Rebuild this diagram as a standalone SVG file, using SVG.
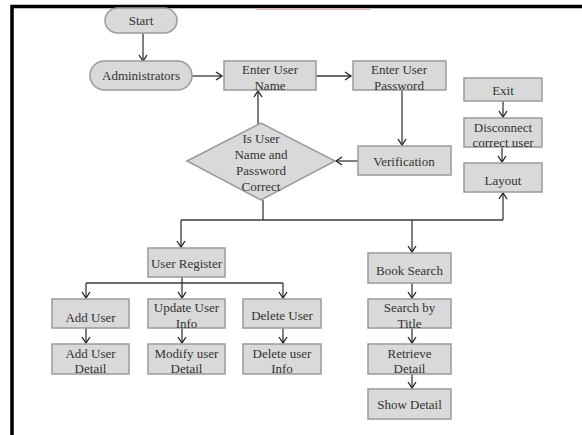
<svg xmlns="http://www.w3.org/2000/svg" width="582" height="435" viewBox="0 0 582 435">
<defs>
<marker id="ah" markerUnits="userSpaceOnUse" markerWidth="12" markerHeight="12" refX="7" refY="5" orient="auto">
<path d="M1,1 L7,5 L1,9" fill="none" stroke="#222" stroke-width="1.3"/>
</marker>
<style>
.b{fill:#d9d9d9;stroke:#9a9a9a;stroke-width:1.5}
.t{font-family:"Liberation Serif","DejaVu Serif",serif;font-size:13px;fill:#333;text-anchor:middle}
.c{fill:none;stroke:#3a3a3a;stroke-width:1.3}
.a{marker-end:url(#ah)}
</style>
</defs>
<rect width="582" height="435" fill="#fff"/>
<path d="M12,435 L12,6.5 L582,6.5" fill="none" stroke="#000" stroke-width="3.5"/>
<line x1="256" y1="9.5" x2="370" y2="9.5" stroke="#f3b0b0" stroke-width="1"/>

<g id="connectors">
<path class="c a" d="M143,33 L143,61"/>
<path class="c a" d="M192,76 L222,76"/>
<path class="c a" d="M316,76 L351,76"/>
<path class="c a" d="M402,90 L402,145"/>
<path class="c a" d="M358,161 L336,161"/>
<path class="c a" d="M258,124 L258,91"/>
<path class="c" d="M263,200 L263,220"/>
<path class="c" d="M181,220 L503,220"/>
<path class="c a" d="M503,220 L503,193"/>
<path class="c a" d="M181,220 L181,247"/>
<path class="c a" d="M412,220 L412,252"/>
<path class="c a" d="M503,101 L503,117"/>
<path class="c a" d="M502,147 L502,162"/>
<path class="c" d="M182,277 L182,283"/>
<path class="c" d="M86,283 L283,283"/>
<path class="c a" d="M86,283 L86,298"/>
<path class="c a" d="M182,283 L182,298"/>
<path class="c a" d="M283,283 L283,298"/>
<path class="c a" d="M86,328 L86,343"/>
<path class="c a" d="M182,328 L182,343"/>
<path class="c a" d="M283,328 L283,343"/>
<path class="c a" d="M412,283 L412,298"/>
<path class="c a" d="M412,328 L412,343"/>
<path class="c a" d="M412,374 L412,388"/>
</g>

<g id="start"><rect class="b" x="105" y="8" width="72" height="25" rx="12.5"/><text class="t" x="141" y="24.5">Start</text></g>
<g id="administrators"><rect class="b" x="90" y="61" width="102" height="29" rx="14.5"/><text class="t" x="141" y="80">Administrators</text></g>
<g id="enter-user-name"><rect class="b" x="224" y="61" width="92" height="29"/><text class="t" x="270" y="73.5">Enter User</text><text class="t" x="270" y="89.5">Name</text></g>
<g id="enter-user-password"><rect class="b" x="353" y="61" width="93" height="29"/><text class="t" x="399" y="73.5">Enter User</text><text class="t" x="399" y="89.5">Password</text></g>
<g id="verification"><rect class="b" x="358" y="146" width="93" height="29"/><text class="t" x="404" y="166">Verification</text></g>
<g id="decision"><polygon class="b" points="187,161 261,123 335,161 261,200"/><text class="t" x="261" y="142.5">Is User</text><text class="t" x="261" y="158.5">Name and</text><text class="t" x="261" y="174.5">Password</text><text class="t" x="261" y="190.5">Correct</text></g>
<g id="exit"><rect class="b" x="464" y="78" width="78" height="23"/><text class="t" x="503" y="95">Exit</text></g>
<g id="disconnect"><rect class="b" x="464" y="118" width="78" height="29"/><text class="t" x="503" y="131.5">Disconnect</text><text class="t" x="503" y="146.5">correct user</text></g>
<g id="layout"><rect class="b" x="464" y="163" width="78" height="29"/><text class="t" x="503" y="184.5">Layout</text></g>
<g id="user-register"><rect class="b" x="148" y="248" width="77" height="29"/><text class="t" x="186.5" y="267.5">User Register</text></g>
<g id="add-user"><rect class="b" x="52" y="299" width="77" height="29"/><text class="t" x="90.5" y="321.5">Add User</text></g>
<g id="update-user-info"><rect class="b" x="148" y="299" width="77" height="29"/><text class="t" x="186.5" y="311.5">Update User</text><text class="t" x="186.5" y="327.5">Info</text></g>
<g id="delete-user"><rect class="b" x="243" y="299" width="78" height="29"/><text class="t" x="282" y="319.5">Delete User</text></g>
<g id="add-user-detail"><rect class="b" x="52" y="344" width="77" height="30"/><text class="t" x="90.5" y="357.5">Add User</text><text class="t" x="90.5" y="372.5">Detail</text></g>
<g id="modify-user-detail"><rect class="b" x="148" y="344" width="77" height="30"/><text class="t" x="186.5" y="357.5">Modify user</text><text class="t" x="186.5" y="372.5">Detail</text></g>
<g id="delete-user-info"><rect class="b" x="243" y="344" width="78" height="30"/><text class="t" x="282" y="357.5">Delete user</text><text class="t" x="282" y="372.5">Info</text></g>
<g id="book-search"><rect class="b" x="368" y="253" width="83" height="30"/><text class="t" x="409.5" y="274.5">Book Search</text></g>
<g id="search-by-title"><rect class="b" x="368" y="299" width="83" height="29"/><text class="t" x="409.5" y="311.5">Search by</text><text class="t" x="409.5" y="327.5">Title</text></g>
<g id="retrieve-detail"><rect class="b" x="368" y="344" width="83" height="30"/><text class="t" x="409.5" y="357.5">Retrieve</text><text class="t" x="409.5" y="372.5">Detail</text></g>
<g id="show-detail"><rect class="b" x="368" y="389" width="83" height="30"/><text class="t" x="409.5" y="408.5">Show Detail</text></g>
</svg>
